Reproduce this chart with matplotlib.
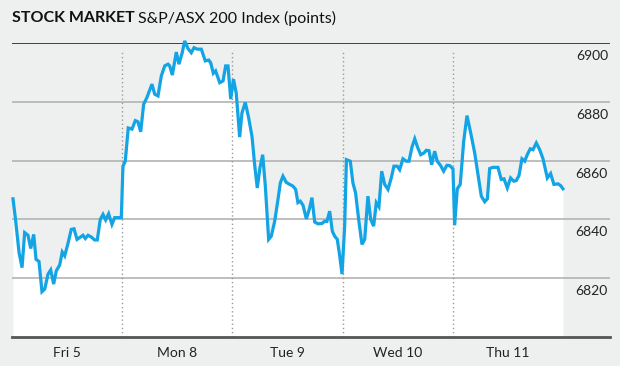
# S&P/ASX 200 intraday, Fri 5 to Thu 11
import numpy as np
import matplotlib.pyplot as plt

# time in trading days from Fri open (0 = Fri open, 1 = Mon open, ...)
t = [0.009, 0.030, 0.064, 0.091, 0.115, 0.145, 0.170, 0.197, 0.218, 0.245,
     0.272, 0.297, 0.327, 0.351, 0.378, 0.402, 0.433, 0.456, 0.478, 0.508,
     0.538, 0.563, 0.590, 0.614, 0.644, 0.665, 0.690, 0.720, 0.750, 0.774,
     0.801, 0.826, 0.850, 0.877, 0.907, 0.932, 0.962, 0.992,
     1.007, 1.028, 1.055, 1.089, 1.119, 1.143, 1.168, 1.195, 1.225, 1.270,
     1.295, 1.325, 1.355, 1.386, 1.416, 1.431, 1.455, 1.491, 1.515, 1.545,
     1.567, 1.597, 1.627, 1.652, 1.681, 1.718, 1.754, 1.785, 1.803, 1.827,
     1.848, 1.885, 1.915, 1.939, 1.960, 1.985,
     2.010, 2.035, 2.066, 2.087, 2.117, 2.148, 2.178, 2.202, 2.226, 2.250,
     2.275, 2.299, 2.329, 2.353, 2.384, 2.414, 2.435, 2.459, 2.489, 2.520,
     2.550, 2.574, 2.595, 2.616, 2.641, 2.671, 2.698, 2.722, 2.747, 2.777,
     2.813, 2.838, 2.858, 2.883, 2.907, 2.928, 2.952, 2.974, 2.995,
     3.019, 3.035, 3.070, 3.094, 3.118, 3.146, 3.176, 3.201, 3.230, 3.255,
     3.282, 3.306, 3.330, 3.355, 3.382, 3.412, 3.442, 3.466, 3.496, 3.518,
     3.548, 3.578, 3.603, 3.630, 3.655, 3.678, 3.709, 3.739, 3.760, 3.784,
     3.808, 3.836, 3.859, 3.890, 3.917, 3.947, 3.972, 4.002,
     4.017, 4.041, 4.068, 4.099, 4.129, 4.163, 4.199, 4.229, 4.259, 4.290,
     4.314, 4.335, 4.365, 4.410, 4.440, 4.465, 4.495, 4.525, 4.553, 4.576,
     4.601, 4.628, 4.653, 4.676, 4.703, 4.728, 4.758, 4.789, 4.819, 4.858,
     4.888, 4.918, 4.955, 4.979, 5.000]

points = [6847.0, 6840.6, 6828.7, 6823.6, 6835.5, 6834.6, 6830.1, 6834.9, 6826.4, 6825.7,
          6815.4, 6816.3, 6821.4, 6822.8, 6818.0, 6822.5, 6824.5, 6828.9, 6827.6, 6831.8,
          6836.6, 6836.8, 6833.2, 6833.8, 6834.6, 6833.5, 6834.6, 6834.0, 6833.0, 6833.0,
          6840.0, 6841.7, 6839.8, 6841.9, 6838.3, 6840.6, 6840.6, 6840.6,
          6858.1, 6859.8, 6871.1, 6870.7, 6873.6, 6873.2, 6869.8, 6879.2, 6881.5, 6886.0,
          6882.6, 6882.0, 6888.8, 6892.2, 6892.8, 6892.2, 6889.1, 6896.9, 6892.8, 6896.7,
          6900.7, 6898.1, 6896.7, 6898.4, 6897.9, 6897.9, 6893.9, 6894.2, 6893.3, 6889.7,
          6890.5, 6886.5, 6887.1, 6892.2, 6892.2, 6880.9,
          6887.7, 6882.9, 6868.0, 6876.2, 6879.8, 6874.5, 6868.2, 6858.6, 6850.7, 6857.5,
          6862.0, 6851.3, 6833.2, 6834.3, 6839.4, 6846.8, 6852.4, 6854.7, 6852.6, 6851.9,
          6851.3, 6850.2, 6845.7, 6846.2, 6844.8, 6840.2, 6843.4, 6847.4, 6839.1, 6838.5,
          6838.6, 6839.4, 6839.3, 6842.8, 6836.0, 6834.3, 6833.2, 6827.6, 6821.4,
          6837.7, 6860.3, 6859.8, 6852.4, 6849.0, 6840.0, 6831.5, 6833.2, 6847.9, 6840.0,
          6837.7, 6845.7, 6844.3, 6856.4, 6851.9, 6850.2, 6854.1, 6858.1, 6858.1, 6856.9,
          6860.6, 6859.8, 6859.8, 6864.6, 6867.4, 6864.8, 6862.0, 6862.6, 6863.5, 6863.4,
          6858.6, 6863.2, 6859.8, 6858.3, 6856.4, 6858.4, 6858.3, 6857.2,
          6838.0, 6850.4, 6851.9, 6866.5, 6875.3, 6869.4, 6862.6, 6855.3, 6847.9, 6846.0,
          6847.0, 6857.3, 6857.7, 6857.7, 6853.6, 6853.8, 6850.7, 6854.1, 6853.0, 6853.2,
          6854.9, 6860.6, 6859.8, 6862.0, 6864.0, 6863.7, 6866.0, 6863.7, 6860.6, 6854.1,
          6855.6, 6851.9, 6852.1, 6851.5, 6850.4]

days = ['Fri 5', 'Mon 8', 'Tue 9', 'Wed 10', 'Thu 11']
ylevels = [6820, 6840, 6860, 6880, 6900]

bg = '#eeefef'
blue = '#12a4e4'

plt.rcParams['font.family'] = ['Lato', 'DejaVu Sans']

fig = plt.figure(figsize=(6.2, 3.66), dpi=100, facecolor=bg)
ax = fig.add_axes([12/620, 29/366, 598/620, 294/366], facecolor=bg)
ax.set_xlim(0, 5.427)
ax.set_ylim(6800, 6900)

# white area under the line
ax.fill_between(t, points, 6800, color='white', lw=0, zorder=1)

# grid
for v in ylevels[:-1]:
    ax.axhline(v, color='#b3b3b3', lw=1.2, zorder=2)
ax.axhline(6900, color='#222222', lw=1.2, zorder=2)
ax.vlines([1, 2, 3, 4], 6800, 6897, colors='#9a9a9a', linestyles=(0, (1, 2)), lw=1, zorder=2)

ax.plot(t, points, color=blue, lw=2.3, zorder=3, clip_on=False, solid_joinstyle='miter')

for v in ylevels:
    ax.annotate(str(v), xy=(1, v), xycoords=('axes fraction', 'data'),
                xytext=(-1.5, -5), textcoords='offset points',
                ha='right', va='top', fontsize=10, color='#222222')

ax.set_xticks([i + 0.5 for i in range(len(days))])
ax.set_xticklabels(days, fontsize=10, color='#222222')
ax.set_yticks([])
ax.tick_params(axis='x', length=0, pad=7)
for s in ['top', 'right', 'left']:
    ax.spines[s].set_visible(False)
ax.spines['bottom'].set_color('#555555')
ax.spines['bottom'].set_linewidth(2)

# title in two weights
t1 = fig.text(12/620, 1 - 18/366, 'STOCK MARKET', fontsize=11.5, fontweight='bold',
              va='center', ha='left', color='#111111')
fig.canvas.draw()
bb = t1.get_window_extent()
fig.text(bb.x1 / 620 + 0.006, 1 - 18/366, 'S&P/ASX 200 Index (points)', fontsize=11.5,
         va='center', ha='left', color='#111111')

fig.savefig('out.png', dpi=100, facecolor=bg)
